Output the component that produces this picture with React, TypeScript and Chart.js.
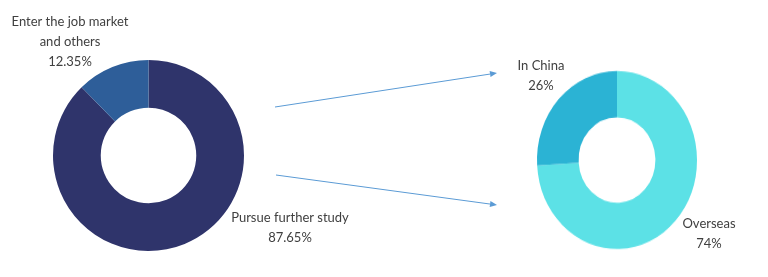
import React, { useEffect, useRef } from "react";
import { Chart, registerables } from "chart.js";

Chart.register(...registerables);

const leftCategories = ["Pursue further study", "Enter the job market and others"];
const leftValues = [87.65, 12.35];
const leftColors = ["#2f346b", "#2e5e99"];

const rightCategories = ["Overseas", "In China"];
const rightValues = [74, 26];
const rightColors = ["#5ce1e6", "#2bb3d4"];

const W = 768;
const H = 277;
const STRETCH = 1.1125; // right donut is drawn as a slightly tall ellipse
const RH = Math.round(H / STRETCH);
const FONT = "13px Lato, 'Open Sans', sans-serif";
const TEXT_COLOR = "#404040";
const ARROW_COLOR = "#5b9bd5";

type Label = { lines: string[]; x: number; y: number };

const labels: Label[] = [
  { lines: ["Pursue further study", "87.65%"], x: 290, y: 218 },
  { lines: ["Enter the job market", "and others", "12.35%"], x: 70, y: 22 },
  { lines: ["Overseas", "74%"], x: 709, y: 224 },
  { lines: ["In China", "26%"], x: 541, y: 66 },
];

const arrows = [
  { x1: 275, y1: 107, x2: 497, y2: 73 },
  { x1: 276, y1: 175, x2: 497, y2: 205 },
];

const overlayPlugin = {
  id: "customLabels",
  afterDraw(chart: any) {
    const ctx = chart.ctx as CanvasRenderingContext2D;
    ctx.save();
    ctx.font = FONT;
    ctx.fillStyle = TEXT_COLOR;
    ctx.textAlign = "center";
    ctx.textBaseline = "middle";
    labels.forEach((l) => {
      l.lines.forEach((t, i) => ctx.fillText(t, l.x, l.y + i * 20));
    });
    ctx.strokeStyle = ARROW_COLOR;
    ctx.fillStyle = ARROW_COLOR;
    ctx.lineWidth = 1;
    arrows.forEach((a) => {
      const ang = Math.atan2(a.y2 - a.y1, a.x2 - a.x1);
      const hl = 7;
      const bx = a.x2 - hl * Math.cos(ang);
      const by = a.y2 - hl * Math.sin(ang);
      ctx.beginPath();
      ctx.moveTo(a.x1, a.y1);
      ctx.lineTo(bx, by);
      ctx.stroke();
      ctx.beginPath();
      ctx.moveTo(a.x2, a.y2);
      ctx.lineTo(bx + 3 * Math.sin(ang), by - 3 * Math.cos(ang));
      ctx.lineTo(bx - 3 * Math.sin(ang), by + 3 * Math.cos(ang));
      ctx.closePath();
      ctx.fill();
    });
    ctx.restore();
  },
};

export default function App() {
  const leftRef = useRef<HTMLCanvasElement>(null);
  const rightRef = useRef<HTMLCanvasElement>(null);

  useEffect(() => {
    const common = (padding: any, cutout: string) => ({
      responsive: false,
      animation: false as const,
      devicePixelRatio: 1,
      cutout,
      layout: { padding },
      plugins: { legend: { display: false }, tooltip: { enabled: false } },
    });
    const right = new Chart(rightRef.current!, {
      type: "doughnut",
      data: {
        labels: rightCategories,
        datasets: [{ data: rightValues, backgroundColor: rightColors, borderWidth: 0 }],
      },
      options: common(
        {
          left: 537,
          right: 71,
          top: 71 / STRETCH,
          bottom: RH - 249 / STRETCH,
        },
        "48%"
      ),
    });
    const left = new Chart(leftRef.current!, {
      type: "doughnut",
      data: {
        labels: leftCategories,
        datasets: [{ data: leftValues, backgroundColor: leftColors, borderWidth: 0 }],
      },
      options: common({ left: 53, right: 524, top: 60, bottom: 26 }, "50%"),
      plugins: [overlayPlugin],
    });
    return () => {
      left.destroy();
      right.destroy();
    };
  }, []);

  return (
    <div style={{ position: "absolute", left: 0, top: 0, width: W, height: H, background: "#fff" }}>
      <canvas
        ref={rightRef}
        width={W}
        height={RH}
        style={{ position: "absolute", left: 0, top: 0, width: W + "px", height: H + "px" }}
      />
      <canvas
        ref={leftRef}
        width={W}
        height={H}
        style={{ position: "absolute", left: 0, top: 0, width: W + "px", height: H + "px" }}
      />
    </div>
  );
}
